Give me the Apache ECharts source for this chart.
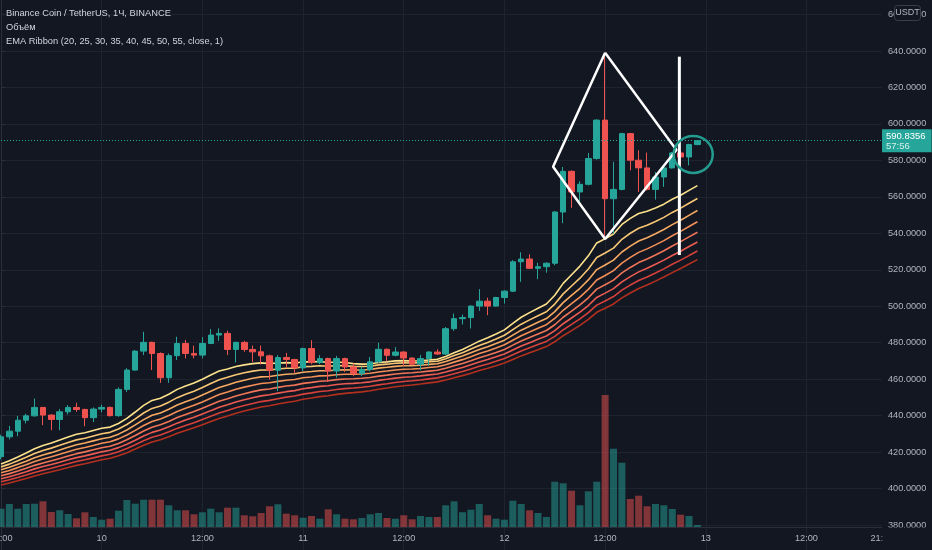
<!DOCTYPE html>
<html>
<head>
<meta charset="utf-8">
<script src="https://cdn.jsdelivr.net/npm/echarts@6.0.0/dist/echarts.min.js"></script>
<style>
html,body{margin:0;padding:0;background:#131722;}
#c{width:932px;height:550px;}
</style>
</head>
<body>
<div id="c"></div>
<script>
// ---------------- DATA ----------------
// hourly candles, BNB/USDT, from day 9 12:00 to day 12 23:00
const opens = [417.5,428.4,431.5,437.5,439.9,444.5,440.3,437.9,442.1,444.5,
 443.4,438.9,443.6,444.5,440,454.4,465,475.4,480.2,474.1,
 460.8,472.9,479.6,474.1,473.2,479.6,484.2,485.1,476.3,480.2,
 476.3,475,472.8,464.9,471.9,470.8,466.2,476.8,469.1,471.3,
 464.5,471.3,466.7,463.1,465.3,469.5,476.4,473.1,474.9,471.6,
 468.2,471.3,474.9,473.8,487.7,493.2,493.8,500.1,502.8,500.1,
 504.8,508.3,524.4,525.9,520.8,521.7,523.6,551.7,574,562.7,
 566.9,581,602.1,559,564.1,594.7,580.1,575.9,564.1,570.9,
 575.9,584.1,581.9,588.7];
const highs = [429.5,434.4,439.9,441,449.4,444.8,440.8,443.6,445.8,447.1,
 443.8,444.5,446,445,455.5,466,476,486,480.6,474.7,
 474.1,483.3,481.5,478.4,483,487.5,487.9,486.6,480.6,481,
 478.4,478.4,473.5,473.2,474.4,471.2,477.3,481.4,473.2,471.8,
 472.8,471.8,468.6,466.8,472.2,480,476.8,477.6,475.3,472,
 473.2,475.3,476.4,488.6,496,495.5,500.6,509.4,504.7,505.2,
 508.8,525.3,529.6,528.5,523.9,524.1,552.2,576.4,574.5,568.6,
 584.1,602.6,639.1,579.2,595.1,595.1,585.6,584.3,573.6,576.3,
 584.6,585.5,589.1,591.2];
const lows = [416,427,428.7,435.7,439.4,434.8,432,432,440.6,442.1,
 434.2,436.5,441.8,439.5,439.4,453,464.6,473.2,465,458,
 458,470.5,471.4,471.4,471.4,479.2,481,473.2,469.2,475,
 469.5,468,459.8,453.5,466.5,463.5,464.5,468.2,468.2,458.5,
 460.9,463.9,461.7,461.7,464.3,469,470,472.5,467.3,467.8,
 464.9,467.3,473.3,473.3,486.5,490,487.8,497.5,495.1,499.8,
 501.5,507.8,513.4,520.4,514.9,518.4,522.5,545.6,554,556.3,
 566.3,580.5,536.8,539.8,563.6,574.6,562.7,563.5,558.5,565.5,
 575.5,577.5,577.3,588.3];
const closes = [428.4,431.5,437.5,439.9,444.5,440.3,437.9,442.1,444.5,443.4,
 438.9,443.6,444.5,440,454.4,465,475.4,480.2,474.1,460.8,
 472.9,479.6,474.1,473.2,479.6,484.2,485.1,476.3,480.2,476.3,
 475,472.8,464.9,471.9,470.8,466.2,476.8,469.1,471.3,464.5,
 471.3,466.7,463.1,465.3,469.5,476.4,473.1,474.9,471.6,468.2,
 471.3,474.9,473.8,487.7,493.2,493.8,500.1,502.8,500.1,504.8,
 508.3,524.4,525.9,520.8,521.7,523.6,551.7,574,562.7,566.9,
 581,602.1,559,564.1,594.7,580.1,575.9,564.1,570.9,575.9,
 584.1,581.9,588.7,590.8356];
// volume (thousand BNB, relative)
const volumes = [18.3,23,18.3,23,23.3,25.7,15,16.7,13,8.7,
 14.7,10,7.3,8.3,16.3,27,23.3,27.3,27.3,27.3,
 21.7,16.7,16.7,12.7,14.7,18.3,14.7,19.3,19.3,11.7,
 10.7,14,20.7,22.7,13.3,11.7,9.3,11,8.3,17.7,
 12.7,8.3,7.7,9,12.7,14,9,8.3,11.7,7.7,
 11,10,10,21.7,25.7,14.8,17.3,23,11.7,8.3,
 7.3,26.3,23,16.7,14,10,45.3,43.7,36.3,21.7,
 35.7,45.3,132,78.3,64.3,28,31.3,20.7,23,21.7,
 18,12.3,11,2];
const lastPrice = 590.8356;
const countdown = '57:56';
// EMA ribbon: periods and their values at the first visible candle
const emaPeriods = [20,25,30,35,40,45,50,55];
const emaStart = [413.5,411.9,410.3,408.7,407.0,405.4,403.7,402.0];
// time axis: 106 hourly slots from day 9 12:00 to day 13 21:00
const startDay = 9, startHour = 12, slotCount = 106;
const tickLabels = {0:'12:00',12:'10',24:'12:00',36:'11',48:'12:00',60:'12',72:'12:00',84:'13',96:'12:00',105:'21:00'};
const yTicks = {min:360, max:680, step:20};
// drawings (x in hour slots, y in price)
const diamond = [[72,639.1],[80.5,585.7],[72,536.9],[65.8,576.5],[72,639.1]];
const verticalMark = [[80.85,636.9],[80.85,528.1]];
const circleCenter = [82.5,583.3];
const titleLines = ['Binance Coin / TetherUS, 1Ч, BINANCE','Объём','EMA Ribbon (20, 25, 30, 35, 40, 45, 50, 55, close, 1)'];

// ---------------- BUILD ----------------
const categories = [];
for (let i = 0; i < slotCount; i++) {
  const t = startHour + i;
  const d = startDay + Math.floor(t / 24), h = t % 24;
  categories.push(d + ' ' + String(h).padStart(2,'0') + ':00');
}
const candleData = opens.map((o,i) => [o, closes[i], lows[i], highs[i]]);
const UP = '#26a69a', DOWN = '#ef5350';
const volData = volumes.map((v,i) => ({value:v, itemStyle:{color: closes[i] >= opens[i] ? 'rgba(38,166,154,0.5)' : 'rgba(239,83,80,0.5)'}}));
function emaSeries(period, seed){
  const a = 2/(period+1); let e = seed; const out = [];
  closes.forEach((c,i) => { if (i > 0) e = e + a*(c - e); out.push(+e.toFixed(3)); });
  return out;
}
const emaColors = ['#fde28c','#f9c774','#f6aa62','#f38f58','#f07558','#ec5b52','#d6423b','#b3301e'];
const FONT = "'Liberation Sans',Roboto,sans-serif";
const GRID_C = '#1f2330', AXIS_C = '#2a2e39', TXT = '#b2b5be', BG = '#131722';

const series = [];
emaPeriods.forEach((p,k) => {
  series.push({type:'line', name:'EMA'+p, xAxisIndex:0, yAxisIndex:0, data: emaSeries(p, emaStart[k]),
    showSymbol:false, symbol:'none', smooth:false, z:1, silent:true,
    lineStyle:{color: emaColors[k], width:1.6}});
});
series.push({type:'candlestick', name:'BNBUSDT', xAxisIndex:0, yAxisIndex:0, data: candleData,
  barWidth:6, clip:false, z:3,
  itemStyle:{color:UP, color0:DOWN, borderColor:UP, borderColor0:DOWN, borderWidth:1},
  markLine:{symbol:['none','none'], silent:true, animation:false,
    lineStyle:{color:UP, type:[1,2], width:1},
    label:{show:true, position:'end', distance:0, formatter:'{p|' + lastPrice.toFixed(4) + '}\n{t|' + countdown + '}',
      backgroundColor:UP, padding:[2,6,1,4],
      rich:{p:{color:'#ffffff', fontSize:9.5, fontFamily:FONT, lineHeight:10},
            t:{color:'#d3efea', fontSize:9.5, fontFamily:FONT, lineHeight:10}}},
    data:[{yAxis:lastPrice}]}});
series.push({type:'bar', name:'Volume', xAxisIndex:1, yAxisIndex:1, data: volData, barWidth:7, clip:false, z:2});
series.push({type:'line', name:'diamond', xAxisIndex:2, yAxisIndex:0, data: diamond, showSymbol:false, symbol:'none', z:6, silent:true,
  lineStyle:{color:'#ffffff', width:2.5}});
series.push({type:'line', name:'mark', xAxisIndex:2, yAxisIndex:0, data: verticalMark, showSymbol:false, symbol:'none', z:6, silent:true,
  lineStyle:{color:'#ffffff', width:3}});

const axisText = {color:TXT, fontSize:9.2, fontFamily:FONT};
const option = {
  backgroundColor: BG,
  animation:false,
  textStyle:{fontFamily:FONT},
  title: titleLines.map((t,i) => ({text:t, left:6, top:9 + i*14, padding:0,
    textStyle:{color:'#d1d4dc', fontSize:9.3, fontWeight:'normal', fontFamily:FONT}})),
  grid:[
    {left:1, width:881, top:-21.9, height:583.4, containLabel:false, outerBoundsMode:'none'},
    {left:1, width:881, top:377, height:150, containLabel:false, outerBoundsMode:'none'}
  ],
  xAxis:[
    {type:'category', gridIndex:0, data:categories, boundaryGap:false,
      axisLine:{show:false}, axisTick:{show:false}, axisLabel:{show:false},
      splitLine:{show:true, interval:(i) => i % 12 === 0, lineStyle:{color:GRID_C, width:1}}},
    {type:'category', gridIndex:1, data:categories, boundaryGap:false,
      axisLine:{show:true, lineStyle:{color:AXIS_C}}, axisTick:{show:false},
      axisLabel:Object.assign({interval:(i) => i in tickLabels, formatter:(v,i) => tickLabels[i] || '', margin:7, hideOverlap:false, showMinLabel:true, showMaxLabel:true}, axisText),
      splitLine:{show:false}},
    {type:'value', gridIndex:0, min:0, max:slotCount-1, show:false}
  ],
  yAxis:[
    {type:'value', gridIndex:0, position:'right', min:yTicks.min, max:yTicks.max, interval:yTicks.step,
      axisLine:{show:true, lineStyle:{color:AXIS_C}}, axisTick:{show:true, length:4, lineStyle:{color:AXIS_C}},
      axisLabel:Object.assign({margin:6, formatter:(v) => v.toFixed(4), hideOverlap:false}, axisText),
      splitLine:{show:true, lineStyle:{color:GRID_C, width:1}}},
    {type:'value', gridIndex:1, min:0, max:150, show:false, splitLine:{show:false}}
  ],
  series: series
};

const chart = echarts.init(document.getElementById('c'), null, {renderer:'canvas', width:932, height:550});
chart.setOption(option);

const diamondIdx = emaPeriods.length + 2;
const [cx, cy] = chart.convertToPixel({seriesIndex: diamondIdx}, circleCenter);
chart.setOption({graphic:[
  {type:'ellipse', id:'circle', shape:{cx:cx, cy:cy, rx:19.5, ry:18.5}, style:{fill:'none', stroke:'#239b8e', lineWidth:2.5}, z:20},
  {type:'rect', id:'cornerCover', shape:{x:882.5, y:527.5, width:50, height:23}, style:{fill:BG}, z:100},
  {type:'rect', id:'usdtBox', shape:{x:894.5, y:5.5, width:26, height:15, r:3}, style:{fill:BG, stroke:'#3a3e4a', lineWidth:1}, z:100},
  {type:'text', id:'usdtText', x:907.5, y:13, style:{text:'USDT', fill:TXT, font:'9px ' + FONT, align:'center', verticalAlign:'middle'}, z:101}
]});
</script>
</body>
</html>
